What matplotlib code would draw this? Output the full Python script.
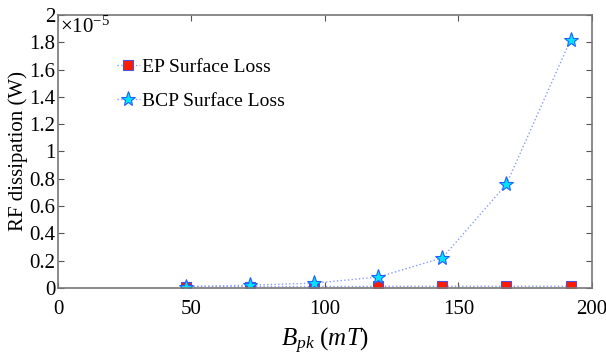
import matplotlib.pyplot as plt
from matplotlib.ticker import FuncFormatter

# data to plot
B_pk = [48, 72, 96, 120, 144, 168, 192]
EP_loss = [0.010e-5, 0.010e-5, 0.010e-5, 0.011e-5, 0.012e-5, 0.012e-5, 0.012e-5]
BCP_loss = [0.010e-5, 0.020e-5, 0.035e-5, 0.080e-5, 0.220e-5, 0.760e-5, 1.815e-5]

plt.rcParams['font.family'] = ['Liberation Serif', 'DejaVu Serif']
plt.rcParams['mathtext.fontset'] = 'custom'
plt.rcParams['mathtext.rm'] = 'Liberation Serif'
plt.rcParams['mathtext.it'] = 'Liberation Serif:italic'

fig = plt.figure(figsize=(6.06, 3.55), dpi=100)
ax = fig.add_axes([0.0957, 0.189, 0.881, 0.769])

line_col = '#8c9cff'
ax.plot(B_pk, EP_loss, linestyle=':', color=line_col, linewidth=1.0,
        marker='s', markersize=7.5, markerfacecolor='#ff1a00',
        markeredgecolor='#5050e0', markeredgewidth=0.8,
        label='EP Surface Loss')
ax.plot(B_pk, BCP_loss, linestyle=':', color=line_col, linewidth=1.0,
        marker='*', markersize=11, markerfacecolor='#00e5ff',
        markeredgecolor='#2060ff', markeredgewidth=0.8,
        label='BCP Surface Loss')

ax.set_xlim(0, 200)
ax.set_ylim(0, 2e-5)
ax.set_xticks([0, 50, 100, 150, 200])
ax.set_yticks([i * 0.2e-5 for i in range(11)])
ax.yaxis.set_major_formatter(FuncFormatter(lambda v, p: '%g' % round(v / 1e-5, 1)))
ax.tick_params(direction='in', top=True, right=True, labelsize=15,
               length=4, color='#555555')
ax.tick_params(axis='x', pad=9)
ax.tick_params(axis='y', pad=2)
for s in ax.spines.values():
    s.set_color('#777777')
    s.set_linewidth(1.2)

ax.text(0.003, 0.995, r'$\times10^{-5}$', transform=ax.transAxes,
        fontsize=15, va='top', ha='left')

ax.set_ylabel('RF dissipation (W)', fontsize=15, labelpad=1)
ax.set_xlabel(r'$B_{pk}$ $(mT)$', fontsize=18, labelpad=5)

ax.legend(loc='upper left', bbox_to_anchor=(0.077, 0.905), frameon=False,
          fontsize=14, handlelength=1.2, handletextpad=0.1, labelspacing=0.85)

plt.savefig('out.png', dpi=100)
